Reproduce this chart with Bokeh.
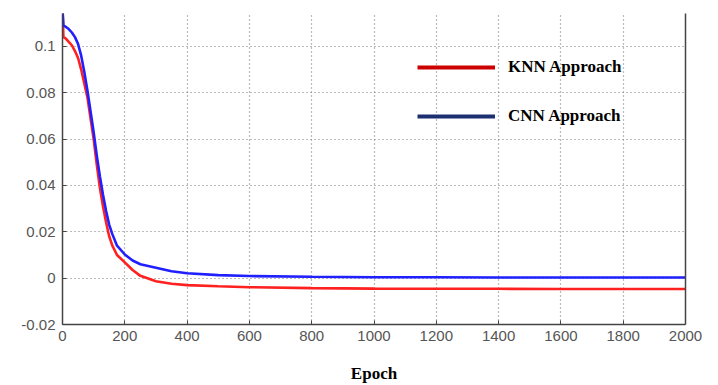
from bokeh.plotting import figure
from bokeh.models import Range1d, LinearAxis, Legend, LegendItem, FixedTicker
from bokeh.embed import file_html
from bokeh.resources import INLINE

# ---- data ----
epochs = [0, 3, 10, 20, 30, 40, 50, 60, 70, 80, 90, 100, 110, 120, 130, 140, 150,
          160, 175, 200, 225, 250, 300, 350, 400, 500, 600, 800, 1000, 1200, 1400,
          1600, 1800, 2000]
knn = [0.116, 0.104, 0.1035, 0.102, 0.1005, 0.098, 0.095, 0.090, 0.084, 0.078,
       0.069, 0.060, 0.049, 0.039, 0.031, 0.024, 0.018, 0.014, 0.010, 0.0068,
       0.0035, 0.0010, -0.0013, -0.0024, -0.0030, -0.0035, -0.0039, -0.0043,
       -0.0045, -0.0046, -0.0046, -0.0047, -0.0047, -0.0047]
cnn = [0.116, 0.109, 0.1085, 0.1075, 0.106, 0.104, 0.101, 0.096, 0.089, 0.081,
       0.072, 0.063, 0.053, 0.044, 0.036, 0.029, 0.023, 0.019, 0.014, 0.0102,
       0.0076, 0.0060, 0.0045, 0.0030, 0.0021, 0.0013, 0.0009, 0.0006, 0.0004,
       0.0004, 0.0003, 0.0003, 0.0003, 0.0003]
x_ticks = [0, 200, 400, 600, 800, 1000, 1200, 1400, 1600, 1800, 2000]
y_ticks = [-0.02, 0, 0.02, 0.04, 0.06, 0.08, 0.1]
y_tick_labels = ["-0.02", "0", "0.02", "0.04", "0.06", "0.08", "0.1"]
series_names = ["KNN Approach", "CNN Approach"]

p = figure(width=708, height=385, output_backend="svg", toolbar_location=None,
           x_range=Range1d(0, 2000), y_range=Range1d(-0.02, 0.1142),
           min_border_left=62, min_border_right=23, min_border_top=13,
           min_border_bottom=60)
p.outline_line_color = None
p.background_fill_color = "white"
p.border_fill_color = "white"

grey_txt = "#555555"
for ax in (p.xaxis[0], p.yaxis[0]):
    ax.major_label_text_font = "Liberation Sans"
    ax.major_label_text_font_size = "15px"
    ax.major_label_text_color = grey_txt
    ax.axis_line_color = "#444444"
    ax.axis_line_width = 1.5
    ax.major_tick_in = 4
    ax.major_tick_out = 0
    ax.major_tick_line_color = "#444444"
    ax.minor_tick_line_color = None

p.xaxis[0].ticker = FixedTicker(ticks=x_ticks)
p.yaxis[0].ticker = FixedTicker(ticks=y_ticks)
p.yaxis[0].major_label_overrides = {t: l for t, l in zip(y_ticks, y_tick_labels)}
p.xaxis[0].major_label_standoff = 6
p.yaxis[0].major_label_standoff = 7

p.xaxis[0].axis_label = "Epoch"
p.xaxis[0].axis_label_text_font = "Liberation Serif"
p.xaxis[0].axis_label_text_font_style = "bold"
p.xaxis[0].axis_label_text_font_size = "17px"
p.xaxis[0].axis_label_text_color = "black"
p.xaxis[0].axis_label_standoff = 20

# right border (axis line only)
ra = LinearAxis(ticker=FixedTicker(ticks=[]))
ra.axis_line_color = "#444444"
ra.axis_line_width = 1.5
ra.major_tick_line_color = None
ra.minor_tick_line_color = None
p.add_layout(ra, "right")

for g in (p.xgrid[0], p.ygrid[0]):
    g.grid_line_color = "#777777"
    g.grid_line_dash = "1 3"
    g.grid_line_width = 1.2
p.xgrid[0].ticker = FixedTicker(ticks=x_ticks)
p.ygrid[0].ticker = FixedTicker(ticks=y_ticks)

p.line(epochs, knn, line_color="#ff2020", line_width=2.6)
p.line(epochs, cnn, line_color="#2020ff", line_width=2.6)

# legend (sample lines in the legend's own colours, no visible data)
nan = float("nan")
lk = p.line([nan], [nan], line_color="#cc0000", line_width=4)
lc = p.line([nan], [nan], line_color="#1c2f70", line_width=4)
legend = Legend(items=[LegendItem(label=series_names[0], renderers=[lk]),
                       LegendItem(label=series_names[1], renderers=[lc])],
                location=(355, 198), orientation="vertical",
                glyph_width=78, glyph_height=20, label_height=20,
                label_standoff=13, spacing=29, padding=0, margin=0,
                border_line_color=None, background_fill_alpha=0,
                label_text_font="Liberation Serif", label_text_font_style="bold",
                label_text_font_size="17px", label_text_color="black")
p.add_layout(legend, "center")

open("out.html", "w").write(file_html(p, INLINE))
